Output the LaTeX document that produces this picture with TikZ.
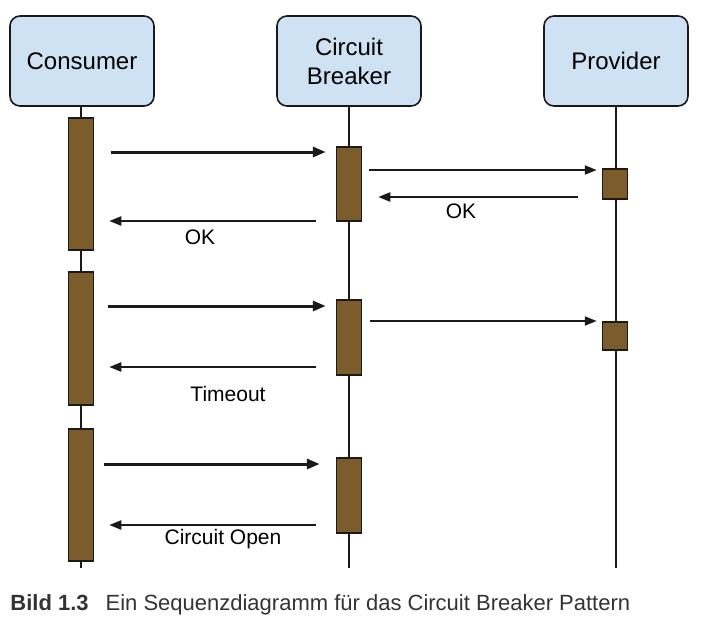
\documentclass[tikz,border=0pt]{standalone}
\usepackage{fontspec}
\setmainfont{Liberation Sans}
\usepackage{xcolor}
\usepackage{tikz}
\usetikzlibrary{arrows.meta,positioning}
\definecolor{seqBlue}{HTML}{CFE2F3}
\definecolor{seqBrown}{HTML}{7B5C2A}
\definecolor{seqInk}{HTML}{1A1A1A}
\definecolor{seqCap}{HTML}{333333}
\tikzset{
  seqhead/.style={rectangle,rounded corners=5pt,draw=seqInk,line width=0.8pt,
                  fill=seqBlue,minimum width=72pt,minimum height=45pt,
                  inner sep=0pt,align=center,font=\fontsize{12}{14.5}\selectfont},
  seqbar/.style={rectangle,draw=seqInk,line width=0.75pt,fill=seqBrown,
                 minimum width=12.5pt,inner sep=0pt},
  seqlife/.style={seqInk,line width=0.6pt},
  seqcall/.style={-{Triangle[length=6.5pt,width=5pt]},seqInk,line width=1.5pt},
  seqfwd/.style={-{Triangle[length=6pt,width=4.5pt]},seqInk,line width=1pt},
  seqreply/.style={-{Triangle[length=6pt,width=4.5pt]},seqInk,line width=1.1pt},
  seqlabel/.style={font=\fontsize{10.5}{12}\selectfont,inner sep=0pt}
}

\begin{document}
\begin{tikzpicture}[x=0.5pt,y=-0.5pt]
    \useasboundingbox (0,0) rectangle (707,628);
    % participants
    \node[seqhead] (cons) at (82,61) {Consumer};
    \node[seqhead] (brk) at (349,61) {Circuit\\Breaker};
    \node[seqhead] (prov) at (616,61) {Provider};
    \coordinate (consend) at (81,568);
    \coordinate (brkend) at (349,568);
    \coordinate (provend) at (616,568);
    \draw[seqlife] (cons.south -| consend) -- (consend);
    \draw[seqlife] (brk.south) -- (brkend);
    \draw[seqlife] (prov.south) -- (provend);

    % activations
    \node[seqbar,minimum height=66pt] (c1) at (81,184) {};
    \node[seqbar,minimum height=66.5pt] (c2) at (81,338.5) {};
    \node[seqbar,minimum height=66pt] (c3) at (81,495) {};
    \node[seqbar,minimum height=37pt] (b1) at (349,184) {};
    \node[seqbar,minimum height=37.5pt] (b2) at (349,337.5) {};
    \node[seqbar,minimum height=37.5pt] (b3) at (349,495.5) {};
    \node[seqbar,minimum height=15pt] (p1) at (615,184) {};
    \node[seqbar,minimum height=14pt] (p2) at (615,336) {};

    % first call: OK
    \draw[seqcall,shorten <=8.5pt,shorten >=5pt] (c1.east |- 0,152) -- (b1.west |- 0,152);
    \draw[seqfwd,shorten <=3.5pt,shorten >=2.5pt] (b1.east |- 0,170) -- (p1.west |- 0,170);
    \draw[seqreply,shorten <=12pt,shorten >=8pt] (p1.west |- 0,197) -- (b1.east |- 0,197);
    \node[seqlabel] (ok1) at (461,211) {OK};
    \draw[seqreply,shorten <=10pt,shorten >=7.5pt] (b1.west |- 0,221) -- (c1.east |- 0,221);
    \node[seqlabel] (ok2) at (200,237) {OK};

    % second call: timeout
    \draw[seqcall,shorten <=7pt,shorten >=5pt] (c2.east |- 0,306) -- (b2.west |- 0,306);
    \draw[seqfwd,shorten <=4pt,shorten >=2.5pt] (b2.east |- 0,321) -- (p2.west |- 0,321);
    \draw[seqreply,shorten <=10pt,shorten >=7.5pt] (b2.west |- 0,367) -- (c2.east |- 0,367);
    \node[seqlabel] (tout) at (228,394) {Timeout};

    % third call: open circuit
    \draw[seqcall,shorten <=5pt,shorten >=8pt] (c3.east |- 0,464) -- (b3.west |- 0,464);
    \draw[seqreply,shorten <=10pt,shorten >=7.5pt] (b3.west |- 0,525) -- (c3.east |- 0,525);
    \node[seqlabel] (copen) at (223,539) {Circuit Open};

    % caption
    \node[anchor=base west,inner sep=0pt,text=seqCap,font=\fontsize{11}{13}\selectfont]
      (cap) at (10,610) {\textbf{Bild 1.3}\hspace{8.5pt}Ein Sequenzdiagramm für das Circuit Breaker Pattern};
\end{tikzpicture}
\end{document}
